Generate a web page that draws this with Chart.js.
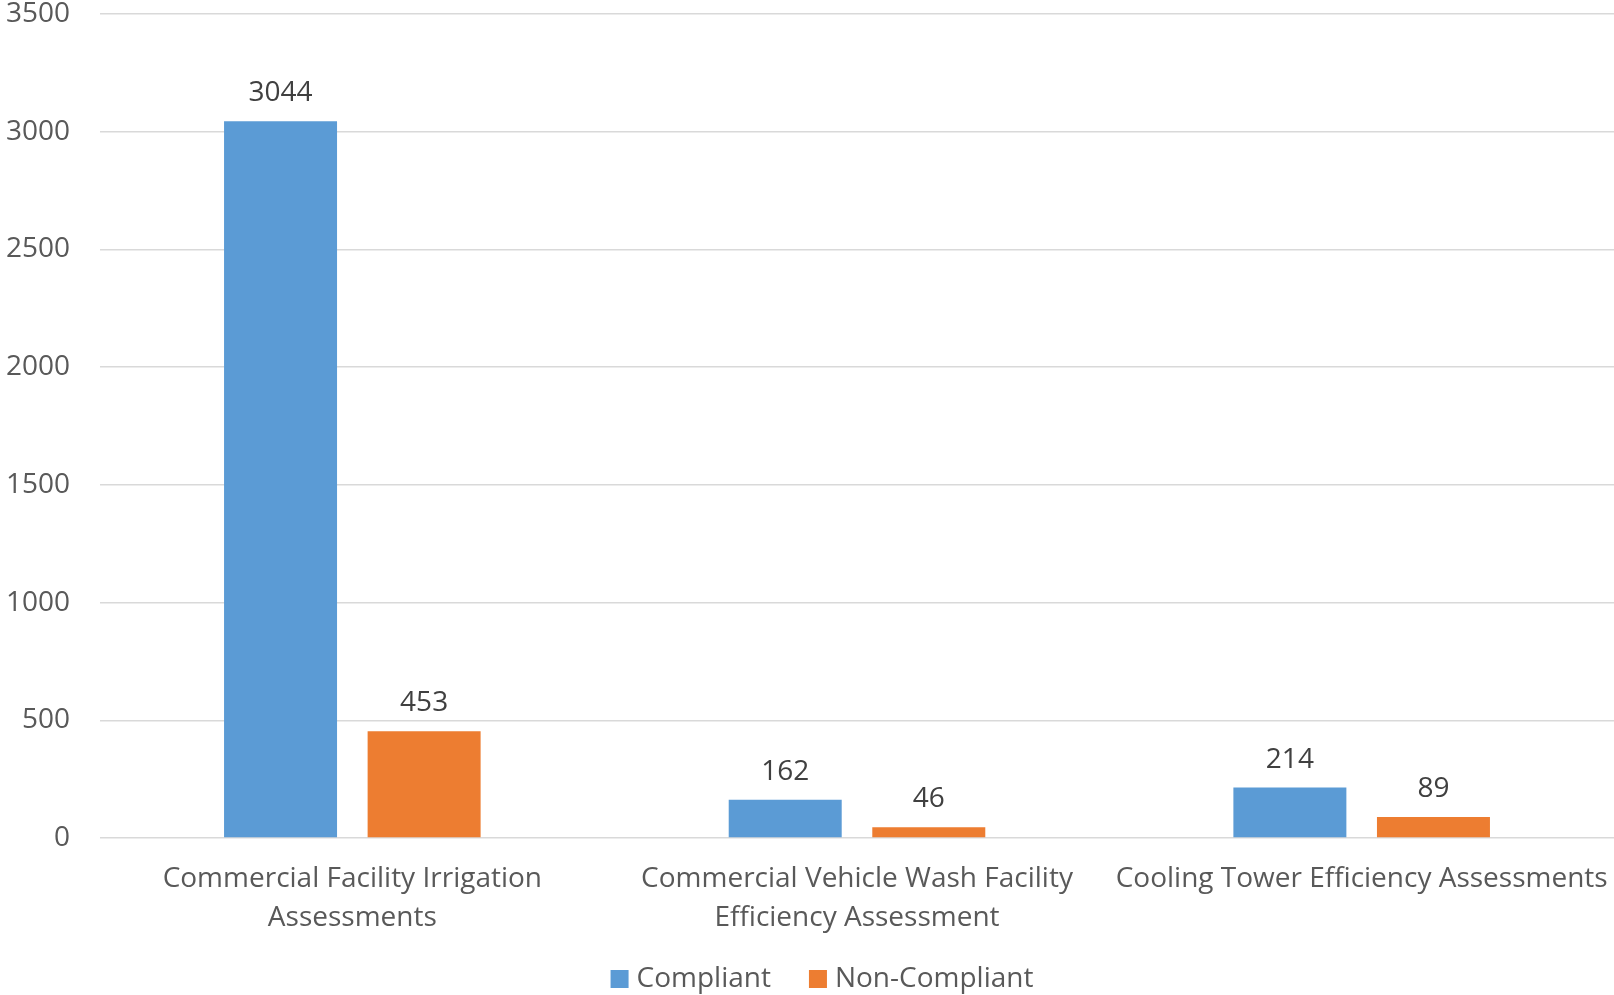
<!DOCTYPE html>
<html>
<head>
<meta charset="utf-8">
<script src="https://cdn.jsdelivr.net/npm/chart.js@4"></script>
<style>
  html, body { margin: 0; padding: 0; background: #fff; }
  #wrap { width: 1614px; height: 995px; }
</style>
</head>
<body>
<div id="wrap"><canvas id="chart"></canvas></div>
<script>
const categories = [
  ["Commercial Facility Irrigation", "Assessments"],
  ["Commercial Vehicle Wash Facility", "Efficiency Assessment"],
  ["Cooling Tower Efficiency Assessments"]
]
const compliant = [3044, 162, 214]
const nonCompliant = [453, 46, 89]
const yTicks = [0, 500, 1000, 1500, 2000, 2500, 3000, 3500]

const FONT = "'Open Sans', sans-serif"
const SIZE = 28

// draws the value above each bar
const valueLabels = {
  id: "valueLabels",
  afterDatasetsDraw(chart) {
    const ctx = chart.ctx
    ctx.save()
    ctx.font = SIZE + "px " + FONT
    ctx.fillStyle = "#404040"
    ctx.textAlign = "center"
    ctx.textBaseline = "alphabetic"
    chart.data.datasets.forEach((ds, i) => {
      chart.getDatasetMeta(i).data.forEach((bar, j) => {
        ctx.fillText(String(ds.data[j]), bar.x, bar.y - 20)
      })
    })
    ctx.restore()
  }
}

// excel-style legend, tighter box/text spacing than the built-in one
const bottomLegend = {
  id: "bottomLegend",
  afterDraw(chart) {
    const ctx = chart.ctx
    ctx.save()
    ctx.font = SIZE + "px " + FONT
    ctx.textBaseline = "middle"
    const box = 18, gap = 8, between = 38
    const items = chart.data.datasets.map(ds => ({
      text: ds.label,
      color: ds.backgroundColor,
      w: box + gap + ctx.measureText(ds.label).width
    }))
    const total = items.reduce((a, it) => a + it.w, 0) + between * (items.length - 1)
    let x = 822 - total / 2
    const cy = 979
    items.forEach(it => {
      ctx.fillStyle = it.color
      ctx.fillRect(x, cy - box / 2, box, box)
      ctx.fillStyle = "#595959"
      ctx.fillText(it.text, x + box + gap, cy)
      x += it.w + between
    })
    ctx.restore()
  }
}

new Chart(document.getElementById("chart"), {
  type: "bar",
  data: {
    labels: categories,
    datasets: [
      {
        label: "Compliant",
        data: compliant,
        backgroundColor: "#5B9BD5",
        barPercentage: 0.787,
        categoryPercentage: 0.569
      },
      {
        label: "Non-Compliant",
        data: nonCompliant,
        backgroundColor: "#ED7D31",
        barPercentage: 0.787,
        categoryPercentage: 0.569
      }
    ]
  },
  options: {
    responsive: true,
    maintainAspectRatio: false,
    animation: false,
    layout: { padding: { top: 14, right: 0, left: 0, bottom: 0 } },
    plugins: {
      legend: { display: false },
      tooltip: { enabled: false }
    },
    scales: {
      x: {
        grid: { display: false },
        border: { display: false },
        ticks: {
          color: "#595959",
          font: { family: FONT, size: SIZE, lineHeight: 1.39 },
          maxRotation: 0,
          autoSkip: false,
          padding: 14
        },
        afterFit: (s) => {
          s.height = 157
          s.paddingLeft = 0
          s.paddingRight = 0
        }
      },
      y: {
        min: 0,
        max: 3500,
        afterBuildTicks: (s) => { s.ticks = yTicks.map(v => ({ value: v })) },
        grid: { color: "#d9d9d9", lineWidth: 1.5, drawTicks: false },
        border: { display: false },
        ticks: {
          color: "#595959",
          font: { family: FONT, size: SIZE },
          padding: 30,
          callback: (v) => String(v)
        },
        afterFit: (s) => {
          s.width = 100
          s.paddingTop = 0
          s.paddingBottom = 0
        }
      }
    }
  },
  plugins: [valueLabels, bottomLegend]
})
</script>
</body>
</html>
